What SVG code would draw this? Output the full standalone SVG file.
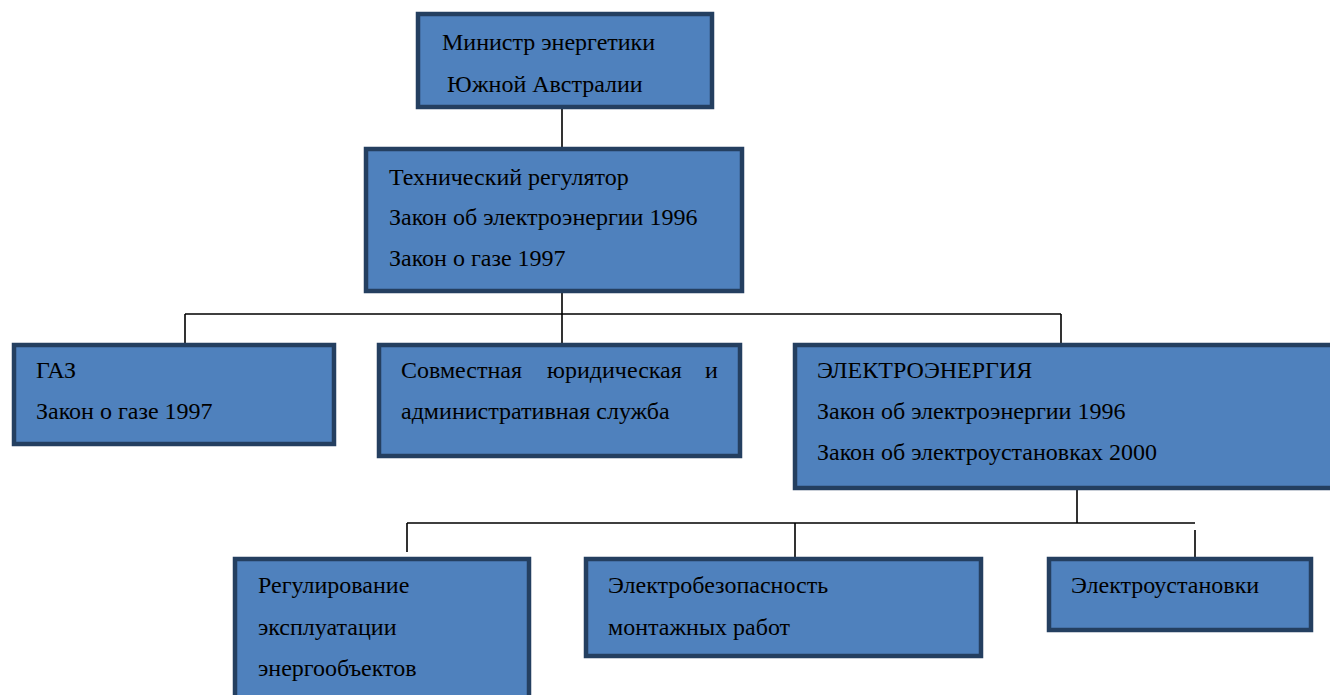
<svg xmlns="http://www.w3.org/2000/svg" width="1330" height="695" viewBox="0 0 1330 695">
<style>
.box{fill:#4F81BD;stroke:#243F60;stroke-width:4.5}
.t{font-family:"Liberation Serif","Times New Roman",serif;font-size:24px;fill:#000}
.c{stroke:#000;stroke-width:1.6;fill:none}
</style>
<rect width="1330" height="695" fill="#fff"/>
<g id="connectors">
<path class="c" d="M562 108V148M562 292V343M185 314H1061M185 314V346M1061 314V343"/>
<path class="c" d="M1077 490V523M407 523H1195M407 523V552M795 523V557M1195 530V557"/>
</g>
<g id="minister">
<rect class="box" x="418" y="14" width="294" height="93"/>
<text class="t" x="442" y="50">Министр энергетики</text>
<text class="t" x="447" y="92">Южной Австралии</text>
</g>
<g id="regulator">
<rect class="box" x="366" y="149" width="376" height="142"/>
<text class="t" x="389" y="185">Технический регулятор</text>
<text class="t" x="389" y="225">Закон об электроэнергии 1996</text>
<text class="t" x="389" y="266">Закон о газе 1997</text>
</g>
<g id="gas">
<rect class="box" x="14" y="345" width="320" height="99"/>
<text class="t" x="36" y="378">ГАЗ</text>
<text class="t" x="36" y="419">Закон о газе 1997</text>
</g>
<g id="legal">
<rect class="box" x="379" y="345" width="361" height="111"/>
<text class="t" y="378"><tspan x="401">Совместная</tspan><tspan x="547">юридическая</tspan><tspan x="705">и</tspan></text>
<text class="t" x="401" y="419">административная служба</text>
</g>
<g id="electro">
<rect class="box" x="795" y="345" width="545" height="143"/>
<text class="t" x="817" y="378">ЭЛЕКТРОЭНЕРГИЯ</text>
<text class="t" x="817" y="419">Закон об электроэнергии 1996</text>
<text class="t" x="817" y="460">Закон об электроустановках 2000</text>
</g>
<g id="operation">
<rect class="box" x="235" y="559" width="294" height="145"/>
<text class="t" x="258" y="593">Регулирование</text>
<text class="t" x="258" y="635">эксплуатации</text>
<text class="t" x="258" y="676">энергообъектов</text>
</g>
<g id="safety">
<rect class="box" x="586" y="559" width="395" height="97"/>
<text class="t" x="608" y="593">Электробезопасность</text>
<text class="t" x="608" y="635">монтажных работ</text>
</g>
<g id="installations">
<rect class="box" x="1049" y="559" width="262" height="71"/>
<text class="t" x="1071" y="593">Электроустановки</text>
</g>
</svg>
